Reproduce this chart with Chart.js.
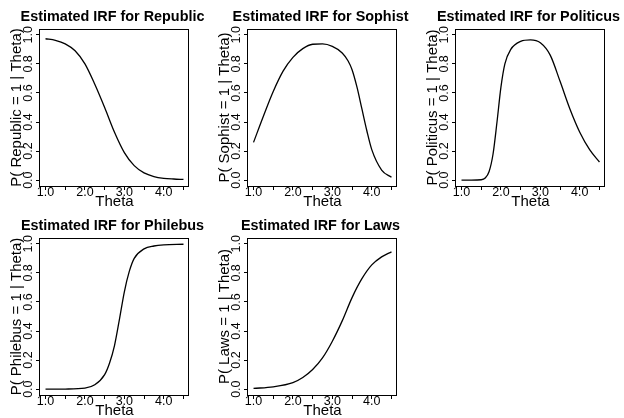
<!DOCTYPE html>
<html>
<head>
<meta charset="utf-8">
<script src="https://cdn.jsdelivr.net/npm/chart.js@4.4.1/dist/chart.umd.min.js"></script>
<style>
  html, body { margin: 0; padding: 0; background: #fff; }
  #wrap { position: relative; width: 624px; height: 418px; }
  #wrap canvas { position: absolute; }
</style>
</head>
<body>
<div id="wrap">
  <canvas id="c0" width="208" height="209" style="left:0;top:0"></canvas>
  <canvas id="c1" width="208" height="209" style="left:208px;top:0"></canvas>
  <canvas id="c2" width="208" height="209" style="left:416px;top:0"></canvas>
  <canvas id="c3" width="208" height="209" style="left:0;top:209px"></canvas>
  <canvas id="c4" width="208" height="209" style="left:208px;top:209px"></canvas>
</div>
<script>
// items (dialogues)
const items = ['Republic', 'Sophist', 'Politicus', 'Philebus', 'Laws'];

// estimated IRF values
const republicTheta = [1.0, 1.25, 1.5, 1.75, 2.0, 2.25, 2.5, 2.75, 3.0, 3.25, 3.5, 3.75, 4.0, 4.25, 4.5];
const republicP = [0.973, 0.962, 0.938, 0.89, 0.80, 0.66, 0.50, 0.33, 0.19, 0.10, 0.05, 0.025, 0.013, 0.008, 0.005];

const sophistTheta = [1.0, 1.25, 1.5, 1.75, 2.0, 2.25, 2.5, 2.75, 3.0, 3.25, 3.4, 3.5, 3.625, 3.75, 3.875, 4.0, 4.25, 4.5];
const sophistP = [0.26, 0.44, 0.61, 0.75, 0.845, 0.905, 0.935, 0.937, 0.92, 0.875, 0.82, 0.76, 0.64, 0.49, 0.34, 0.21, 0.07, 0.02];

const politicusTheta = [1.0, 1.25, 1.5, 1.6, 1.7, 1.8, 1.9, 2.0, 2.1, 2.25, 2.5, 2.75, 3.0, 3.25, 3.5, 3.75, 4.0, 4.25, 4.5];
const politicusP = [0.0, 0.0, 0.003, 0.015, 0.06, 0.18, 0.40, 0.64, 0.80, 0.90, 0.955, 0.965, 0.945, 0.86, 0.68, 0.49, 0.33, 0.21, 0.125];

const philebusTheta = [1.0, 1.5, 2.0, 2.25, 2.5, 2.625, 2.75, 2.875, 3.0, 3.125, 3.25, 3.5, 3.75, 4.0, 4.5];
const philebusP = [0.0, 0.001, 0.007, 0.03, 0.10, 0.18, 0.30, 0.48, 0.67, 0.81, 0.90, 0.965, 0.985, 0.993, 0.997];

const lawsTheta = [1.0, 1.5, 2.0, 2.25, 2.5, 2.75, 3.0, 3.25, 3.5, 3.75, 4.0, 4.25, 4.5];
const lawsP = [0.005, 0.016, 0.045, 0.08, 0.135, 0.215, 0.33, 0.47, 0.63, 0.76, 0.855, 0.91, 0.945];

// axis ticks
const xTicks = [1.0, 1.5, 2.0, 2.5, 3.0, 3.5, 4.0, 4.5];
const xTickLabels = ['1.0', '', '2.0', '', '3.0', '', '4.0', ''];
const yTicks = [0.0, 0.2, 0.4, 0.6, 0.8, 1.0];
const yTickLabels = ['0.0', '0.2', '0.4', '0.6', '0.8', '1.0'];

const curves = [
  [republicTheta, republicP],
  [sophistTheta, sophistP],
  [politicusTheta, politicusP],
  [philebusTheta, philebusP],
  [lawsTheta, lawsP]
];

const FONT = "'Liberation Sans', Arial, Helvetica, sans-serif";
Chart.defaults.font.family = FONT;
Chart.defaults.color = '#000';

// R style box + main title
const rFrame = {
  id: 'rFrame',
  afterDraw(chart, args, opts) {
    const { ctx, chartArea: a } = chart;
    ctx.save();
    ctx.strokeStyle = '#000';
    ctx.lineWidth = 1;
    ctx.strokeRect(a.left - 0.5, a.top + 0.5, a.right - a.left, a.bottom - a.top);
    ctx.font = 'bold 14.4px ' + FONT;
    ctx.fillStyle = '#000';
    ctx.textAlign = 'center';
    ctx.textBaseline = 'alphabetic';
    ctx.fillText(opts.text, (a.left + a.right) / 2 - 2, 21);
    ctx.restore();
  }
};

function tampilkanPanel(idx) {
  const name = items[idx];
  const [theta, p] = curves[idx];
  new Chart(document.getElementById('c' + idx), {
    type: 'line',
    data: {
      datasets: [{
        data: theta.map((t, i) => ({ x: t, y: p[i] })),
        borderColor: '#000',
        borderWidth: 1.3,
        pointRadius: 0,
        fill: false,
        cubicInterpolationMode: 'monotone'
      }]
    },
    options: {
      responsive: false,
      animation: false,
      events: [],
      layout: { padding: { left: 0, right: 19, top: 29, bottom: 0 }, autoPadding: false },
      plugins: {
        legend: { display: false },
        tooltip: { enabled: false },
        rFrame: { text: 'Estimated IRF for ' + name }
      },
      scales: {
        x: {
          type: 'linear',
          min: 0.86,
          max: 4.64,
          afterBuildTicks: s => { s.ticks = xTicks.map(v => ({ value: v })); },
          afterFit: s => { s.height = 23; },
          ticks: {
            autoSkip: false,
            maxRotation: 0,
            padding: -5,
            font: { size: 12.5 },
            callback: (v, i) => xTickLabels[i]
          },
          grid: { drawOnChartArea: false, drawTicks: true, tickLength: 4, color: '#000' },
          border: { display: false },
          title: {
            display: true,
            text: 'Theta',
            font: { size: 15, lineHeight: 1 },
            padding: { top: 0, bottom: -0.5 }
          }
        },
        y: {
          type: 'linear',
          min: -0.04,
          max: 1.04,
          afterBuildTicks: s => { s.ticks = yTicks.map(v => ({ value: v })); },
          afterFit: s => { s.width = 40; },
          ticks: {
            autoSkip: false,
            minRotation: 90,
            maxRotation: 90,
            crossAlign: 'center',
            padding: -1,
            font: { size: 12.5 },
            callback: (v, i) => yTickLabels[i]
          },
          grid: { drawOnChartArea: false, drawTicks: true, tickLength: 4, color: '#000' },
          border: { display: false },
          title: {
            display: true,
            text: 'P( ' + name + ' = 1 | Theta)',
            font: { size: 15, lineHeight: 1 },
            padding: { top: 9, bottom: 0 }
          }
        }
      }
    },
    plugins: [rFrame]
  });
}

items.forEach((_, i) => tampilkanPanel(i));
</script>
</body>
</html>
